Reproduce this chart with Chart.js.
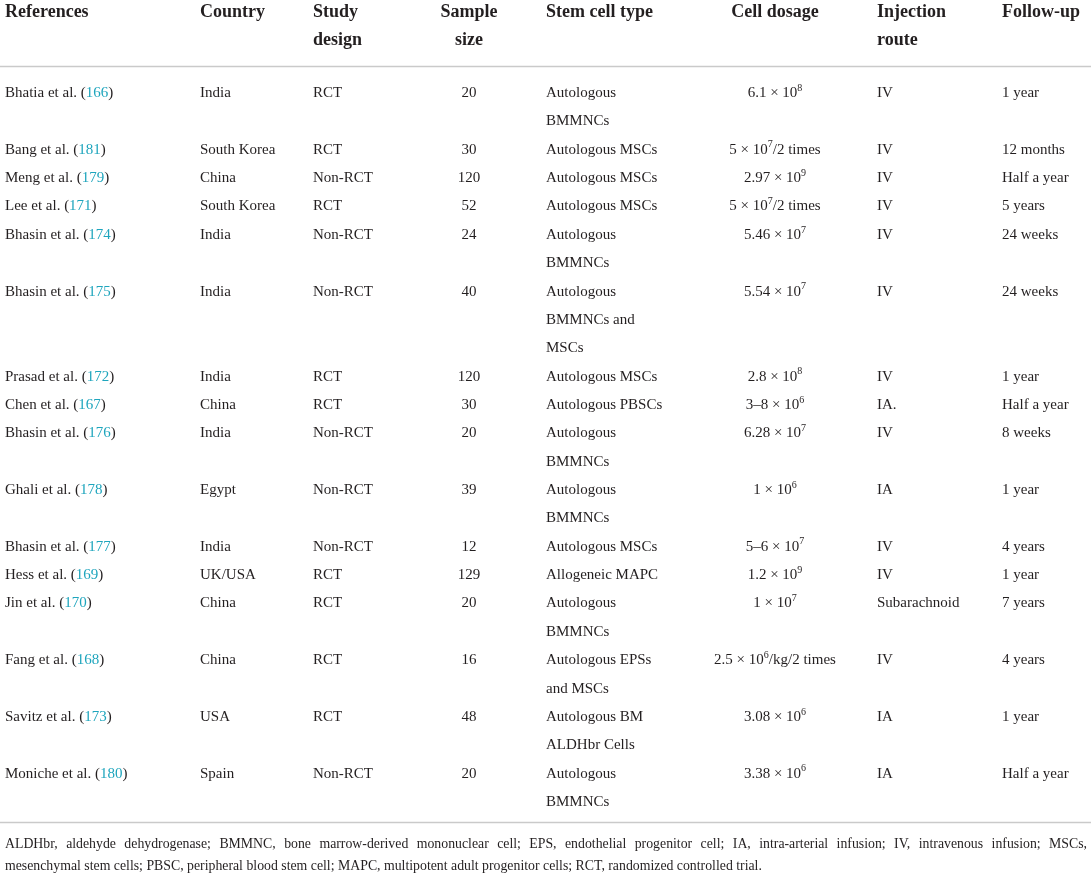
<!DOCTYPE html>
<html lang="en">
<head>
<meta charset="UTF-8" />
<title>Stem cell trials</title>
<script src="https://cdn.jsdelivr.net/npm/chart.js"></script>
<style>
  html, body { margin: 0; padding: 0; background: #fff; }
  canvas { display: block; }
</style>
</head>
<body>
<canvas id="tableChart" width="1091" height="876"></canvas>
<script>
// table data
const headers = [['References'], ['Country'], ['Study', 'design'], ['Sample', 'size'],
  ['Stem cell type'], ['Cell dosage'], ['Injection', 'route'], ['Follow-up']];
const references = ['Bhatia et al.', 'Bang et al.', 'Meng et al.', 'Lee et al.', 'Bhasin et al.',
  'Bhasin et al.', 'Prasad et al.', 'Chen et al.', 'Bhasin et al.', 'Ghali et al.', 'Bhasin et al.',
  'Hess et al.', 'Jin et al.', 'Fang et al.', 'Savitz et al.', 'Moniche et al.'];
const citations = [166, 181, 179, 171, 174, 175, 172, 167, 176, 178, 177, 169, 170, 168, 173, 180];
const countries = ['India', 'South Korea', 'China', 'South Korea', 'India', 'India', 'India', 'China',
  'India', 'Egypt', 'India', 'UK/USA', 'China', 'China', 'USA', 'Spain'];
const designs = ['RCT', 'RCT', 'Non-RCT', 'RCT', 'Non-RCT', 'Non-RCT', 'RCT', 'RCT', 'Non-RCT',
  'Non-RCT', 'Non-RCT', 'RCT', 'RCT', 'RCT', 'RCT', 'Non-RCT'];
const sampleSizes = [20, 30, 120, 52, 24, 40, 120, 30, 20, 39, 12, 129, 20, 16, 48, 20];
const cellTypes = ['Autologous\nBMMNCs', 'Autologous MSCs', 'Autologous MSCs', 'Autologous MSCs',
  'Autologous\nBMMNCs', 'Autologous\nBMMNCs and\nMSCs', 'Autologous MSCs', 'Autologous PBSCs',
  'Autologous\nBMMNCs', 'Autologous\nBMMNCs', 'Autologous MSCs', 'Allogeneic MAPC',
  'Autologous\nBMMNCs', 'Autologous EPSs\nand MSCs', 'Autologous BM\nALDHbr Cells', 'Autologous\nBMMNCs'];
const dosages = ['6.1 × 10^8', '5 × 10^7/2 times', '2.97 × 10^9', '5 × 10^7/2 times', '5.46 × 10^7',
  '5.54 × 10^7', '2.8 × 10^8', '3–8 × 10^6', '6.28 × 10^7', '1 × 10^6', '5–6 × 10^7', '1.2 × 10^9',
  '1 × 10^7', '2.5 × 10^6/kg/2 times', '3.08 × 10^6', '3.38 × 10^6'];
const routes = ['IV', 'IV', 'IV', 'IV', 'IV', 'IV', 'IV', 'IA.', 'IV', 'IA', 'IV', 'IV',
  'Subarachnoid', 'IV', 'IA', 'IA'];
const followUps = ['1 year', '12 months', 'Half a year', '5 years', '24 weeks', '24 weeks', '1 year',
  'Half a year', '8 weeks', '1 year', '4 years', '1 year', '7 years', '4 years', '1 year', 'Half a year'];
const footnoteLines = [
  'ALDHbr, aldehyde dehydrogenase; BMMNC, bone marrow-derived mononuclear cell; EPS, endothelial ' +
  'progenitor cell; IA, intra-arterial infusion; IV, intravenous infusion; MSCs,',
  'mesenchymal stem cells; PBSC, peripheral blood stem cell; MAPC, multipotent adult progenitor ' +
  'cells; RCT, randomized controlled trial.'
];

// layout
const colX = [5, 200, 313, 469, 546, 775, 877, 1002];
const colAlign = ['left', 'left', 'left', 'center', 'left', 'center', 'left', 'left'];
const PITCH = 28.36, FIRST = 92;
const FONT = '"Liberation Serif", "Times New Roman", serif';
const INK = '#231f20', CITE = '#1ea5bd', RULE = '#cacaca';

// start line of each row (in line units), from the number of lines its cells take
const lineCounts = cellTypes.map(t => t.split('\n').length);
const rowStart = [];
lineCounts.reduce((acc, n, i) => { rowStart.push(acc); return acc + n; }, 0);
const totalLines = lineCounts.reduce((a, b) => a + b, 0);

function segs(str, color) {
  // "10^8" -> superscript segment
  const out = [];
  const parts = str.split('^');
  out.push({ text: parts[0], color });
  for (let i = 1; i < parts.length; i++) {
    out.push({ text: parts[i][0], color, sup: true });
    if (parts[i].length > 1) out.push({ text: parts[i].slice(1), color });
  }
  return out;
}

function drawRich(ctx, list, x, y, align, size, weight) {
  const main = weight + ' ' + size + 'px ' + FONT;
  const sup = weight + ' ' + Math.round(size * 0.68) + 'px ' + FONT;
  let w = 0;
  list.forEach(s => { ctx.font = s.sup ? sup : main; s.w = ctx.measureText(s.text).width; w += s.w; });
  let cx = align === 'center' ? x - w / 2 : x;
  list.forEach(s => {
    ctx.font = s.sup ? sup : main;
    ctx.fillStyle = s.color;
    ctx.fillText(s.text, cx, s.sup ? y - size * 0.42 : y);
    cx += s.w;
  });
}

const tablePlugin = {
  id: 'tablePlugin',
  afterDraw(chart) {
    const ctx = chart.ctx;
    const ys = chart.scales.y, xs = chart.scales.x;
    const base = v => ys.getPixelForValue(v) + 5;
    ctx.save();
    ctx.textBaseline = 'alphabetic';
    ctx.textAlign = 'left';

    // header
    headers.forEach((h, c) => {
      h.forEach((line, k) => {
        drawRich(ctx, [{ text: line, color: INK }], xs.getPixelForValue(colX[c]),
          base(-2.82 + k * 0.987), colAlign[c], 18, 'bold');
      });
    });

    // rules
    ctx.strokeStyle = RULE;
    ctx.lineWidth = 1.6;
    [-0.91, totalLines - 0.26].forEach(v => {
      const y = Math.round(ys.getPixelForValue(v)) + 0.5;
      ctx.beginPath();
      ctx.moveTo(chart.chartArea.left, y);
      ctx.lineTo(chart.chartArea.right, y);
      ctx.stroke();
    });

    // body
    chart.data.datasets[0].data.forEach((pt, r) => {
      const cells = [
        [[{ text: references[r] + ' (', color: INK }, { text: String(citations[r]), color: CITE }, { text: ')', color: INK }]],
        [segs(countries[r], INK)],
        [segs(designs[r], INK)],
        [segs(String(sampleSizes[r]), INK)],
        cellTypes[r].split('\n').map(t => segs(t, INK)),
        [segs(dosages[r], INK)],
        [segs(routes[r], INK)],
        [segs(followUps[r], INK)]
      ];
      cells.forEach((lines, c) => {
        lines.forEach((l, k) => {
          drawRich(ctx, l, xs.getPixelForValue(colX[c]), base(pt.y + k), colAlign[c], 15, 'normal');
        });
      });
    });

    // footnote, first line justified
    ctx.font = '13.8px ' + FONT;
    ctx.fillStyle = INK;
    const left = 5, right = 1087;
    footnoteLines.forEach((text, i) => {
      const y = base(totalLines + 0.48 + i * 0.77);
      if (i < footnoteLines.length - 1) {
        const ln = text.split(' ');
        const ww = ln.map(w => ctx.measureText(w).width);
        const gap = (right - left - ww.reduce((a, b) => a + b, 0)) / (ln.length - 1);
        let x = left;
        ln.forEach((w, j) => { ctx.fillText(w, x, y); x += ww[j] + gap; });
      } else {
        ctx.fillText(text, left, y);
      }
    });
    ctx.restore();
  }
};

const ctx = document.getElementById('tableChart').getContext('2d');
new Chart(ctx, {
  type: 'scatter',
  data: {
    datasets: [{
      label: 'rows',
      data: rowStart.map(s => ({ x: 0, y: s })),
      pointRadius: 0,
      pointHoverRadius: 0
    }]
  },
  options: {
    responsive: false,
    animation: false,
    events: [],
    layout: { padding: 0 },
    plugins: { legend: { display: false }, tooltip: { enabled: false } },
    scales: {
      x: { type: 'linear', display: false, min: 0, max: 1091 },
      y: { type: 'linear', display: false, reverse: true,
        min: -FIRST / PITCH, max: (876 - FIRST) / PITCH }
    }
  },
  plugins: [tablePlugin]
});
</script>
</body>
</html>
